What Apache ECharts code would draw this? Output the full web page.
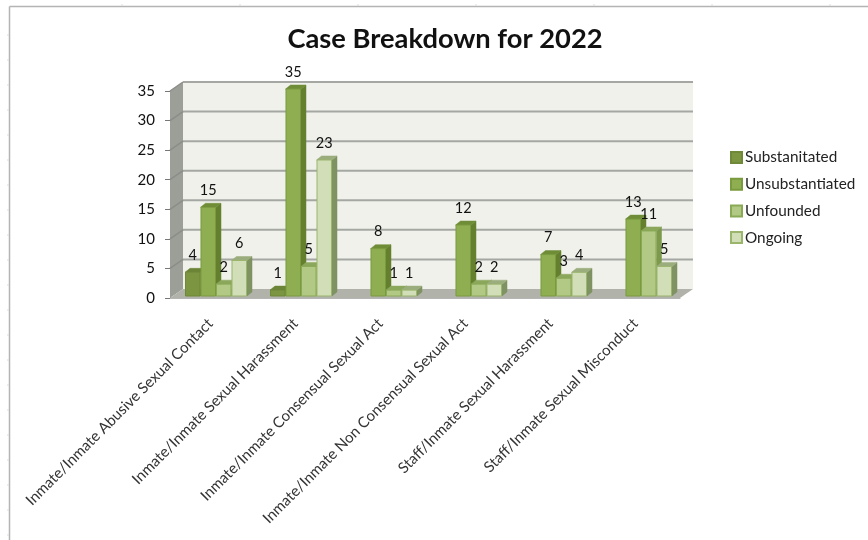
<!DOCTYPE html>
<html>
<head>
<meta charset="utf-8">
<style>html,body{margin:0;padding:0;background:#fff}#chart{width:868px;height:540px}</style>
<script src="https://cdn.jsdelivr.net/npm/echarts@6/dist/echarts.min.js"></script>
</head>
<body>
<div id="chart"></div>
<script>
const categories = [
  'Inmate/Inmate Abusive Sexual Contact',
  'Inmate/Inmate Sexual Harassment',
  'Inmate/Inmate Consensual Sexual Act',
  'Inmate/Inmate Non Consensual Sexual Act',
  'Staff/Inmate Sexual Harassment',
  'Staff/Inmate Sexual Misconduct'
];
const substantiated = [4, 1, null, null, null, null];
const unsubstantiated = [15, 35, 8, 12, 7, 13];
const unfounded = [2, 5, 1, 2, 3, 11];
const ongoing = [6, 23, 1, 2, 4, 5];
const yTicks = [0, 5, 10, 15, 20, 25, 30, 35];

const FONT = 'Lato, "Open Sans", sans-serif';
// Depth of the box (side wall and floor) and of each column, in pixels
const BOX_DX = 13, BOX_DY = 9;
const BAR_DX = 5, BAR_DY = 4;
const SHIFT_X = 3.5, SHIFT_Y = 2;

const palette = [
  { face: '#7b9540', edge: '#6f8839', side: '#5f7631', top: '#6b8436' },
  { face: '#8fae52', edge: '#7a9a3e', side: '#64802f', top: '#6f8c37' },
  { face: '#b1c984', edge: '#8aa955', side: '#7d9a4c', top: '#8ba75b' },
  { face: '#d1deb8', edge: '#9ab56c', side: '#7f9262', top: '#9bad7d' }
];

// One column: front face, side and top, with its value printed above
function columnRenderer(slot, colors) {
  return function (params, api) {
    const value = api.value(1);
    if (value == null || isNaN(value)) return null;
    const catIndex = api.value(0);
    const band = api.size([1, 0])[0];
    const w = band * 0.1824;
    const base = api.coord([catIndex, 0]);
    const head = api.coord([catIndex, value]);
    const x0 = base[0] + SHIFT_X + (slot - 2) * w;
    const x1 = x0 + w;
    const y0 = base[1] - SHIFT_Y;
    const y1 = head[1] - SHIFT_Y;
    const poly = (points, fill) => ({
      type: 'polygon',
      shape: { points: points },
      style: { fill: fill, stroke: fill, lineWidth: 0.5 }
    });
    return {
      type: 'group',
      children: [
        poly([[x1, y0], [x1 + BAR_DX, y0 - BAR_DY], [x1 + BAR_DX, y1 - BAR_DY], [x1, y1]], colors.side),
        poly([[x0, y1], [x1, y1], [x1 + BAR_DX, y1 - BAR_DY], [x0 + BAR_DX, y1 - BAR_DY]], colors.top),
        {
          type: 'rect',
          shape: { x: x0 + 0.5, y: y1, width: w - 1, height: y0 - y1 },
          style: { fill: colors.face, stroke: colors.edge, lineWidth: 1 }
        },
        {
          type: 'text',
          z2: 100,
          style: {
            x: (x0 + x1) / 2, y: y1 - 17,
            text: String(value),
            fill: '#111', font: '14.5px ' + FONT,
            align: 'center', verticalAlign: 'middle'
          }
        }
      ]
    };
  };
}

// Side wall, back wall, floor and the gridlines running across them
function boxRenderer(params, api) {
  const tick = api.value(0);
  const p = api.coord([0, tick]);
  const band = api.size([1, 0])[0];
  const left = p[0] - band / 2;
  const right = left + band * categories.length;
  const y = p[1];
  const children = [];
  if (tick === 0) {
    const top = api.coord([0, yTicks[yTicks.length - 1]])[1];
    children.push({
      type: 'polygon',
      shape: { points: [[left, y], [left + BOX_DX, y - BOX_DY], [left + BOX_DX, top - BOX_DY], [left, top]] },
      style: { fill: '#9c9e98' }
    }, {
      type: 'rect',
      shape: { x: left + BOX_DX, y: top - BOX_DY, width: right - left, height: y - top },
      style: { fill: '#eff1ea' }
    }, {
      type: 'polygon',
      shape: { points: [[left, y], [right, y], [right + BOX_DX, y - BOX_DY], [left + BOX_DX, y - BOX_DY]] },
      style: { fill: '#b1b3ab' }
    });
  } else {
    children.push({
      type: 'line',
      z2: 5,
      shape: { x1: left + BOX_DX, y1: y - BOX_DY, x2: right + BOX_DX, y2: y - BOX_DY },
      style: { stroke: '#a5a7a3', lineWidth: 2 }
    }, {
      type: 'line',
      z2: 5,
      shape: { x1: left, y1: y, x2: left + BOX_DX, y2: y - BOX_DY },
      style: { stroke: '#8b8d88', lineWidth: 1.5 }
    });
  }
  return { type: 'group', children: children };
}

const seriesDefs = [
  ['Substanitated', substantiated],
  ['Unsubstantiated', unsubstantiated],
  ['Unfounded', unfounded],
  ['Ongoing', ongoing]
];

// Outer frame of the embedded sheet with its faint ruler marks
const frame = [
  { type: 'line', shape: { x1: 9.5, y1: 6.5, x2: 868, y2: 6.5 }, style: { stroke: '#b4b4b4', lineWidth: 1.5 } },
  { type: 'line', shape: { x1: 9.5, y1: 6.5, x2: 9.5, y2: 540 }, style: { stroke: '#b4b4b4', lineWidth: 1.5 } }
];
[122, 240, 358, 476, 594, 712, 830].forEach(x => frame.push({
  type: 'line', shape: { x1: x, y1: 4, x2: x, y2: 6 }, style: { stroke: '#dcdcdc', lineWidth: 1 }
}));
[35, 60, 85, 110, 135, 160, 185, 210, 235, 260, 285, 310, 335, 360, 385, 410, 435, 460, 485, 510, 535].forEach(y => frame.push({
  type: 'line', shape: { x1: 7, y1: y, x2: 9, y2: y }, style: { stroke: '#dcdcdc', lineWidth: 1 }
}));

const chart = echarts.init(document.getElementById('chart'), null, { renderer: 'canvas' });
chart.setOption({
  animation: false,
  backgroundColor: '#fff',
  graphic: frame,
  title: {
    text: 'Case Breakdown for 2022',
    left: 440, top: 21, textAlign: 'center',
    textStyle: { fontFamily: FONT, fontSize: 27.3, fontWeight: 'bold', color: '#111' }
  },
  legend: {
    orient: 'vertical', left: 725, top: 145,
    itemWidth: 11, itemHeight: 11, itemGap: 11.7, icon: 'rect',
    data: seriesDefs.map(d => d[0]),
    textStyle: { fontFamily: FONT, fontSize: 15.3, color: '#222', padding: [0, 0, 0, -2] },
    selectedMode: false
  },
  grid: { left: 170, top: 91, width: 510, height: 207 },
  xAxis: {
    type: 'category',
    data: categories,
    axisLine: { lineStyle: { color: '#b5b5b5', width: 1 } },
    axisTick: { length: 5, lineStyle: { color: '#b5b5b5' } },
    axisLabel: { rotate: 45, interval: 0, margin: 21, padding: [0, 3, 0, 0], color: '#333', fontFamily: FONT, fontSize: 15.05 }
  },
  yAxis: {
    type: 'value', min: 0, max: 35, interval: 5,
    splitLine: { show: false },
    axisLine: { show: true, lineStyle: { color: '#8a8a8a' } },
    axisTick: { show: true, length: 5, lineStyle: { color: '#777' } },
    axisLabel: { margin: 15, color: '#111', fontFamily: FONT, fontSize: 15 }
  },
  series: [{
    type: 'custom', name: 'box', z: 1, silent: true, clip: false,
    coordinateSystem: 'cartesian2d',
    encode: { x: 1, y: 0 },
    data: yTicks.map(t => [t, 0]),
    renderItem: boxRenderer
  }].concat(seriesDefs.map((d, i) => ({
    type: 'custom', name: d[0], z: 3, clip: false,
    coordinateSystem: 'cartesian2d',
    itemStyle: { color: palette[i].face, borderColor: palette[i].edge, borderWidth: 1 },
    encode: { x: 0, y: 1 },
    data: d[1].map((v, c) => [c, v]),
    renderItem: columnRenderer(i, palette[i])
  })))
});
</script>
</body>
</html>
